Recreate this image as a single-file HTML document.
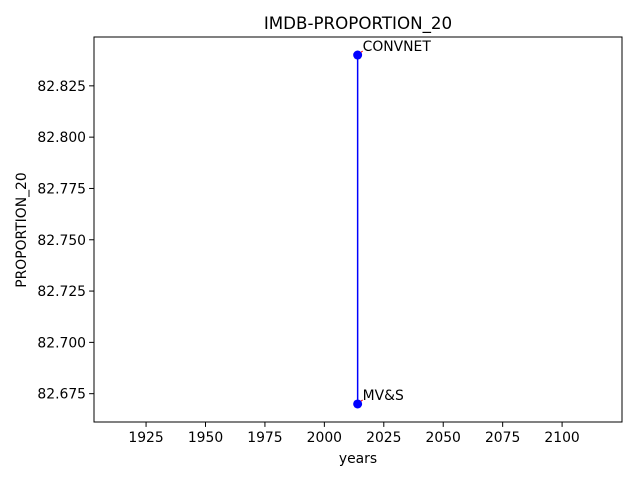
<!DOCTYPE html>
<html><head><meta charset="utf-8"><style>
body{margin:0;background:#fff;}
svg{font-family:"DejaVu Sans","Liberation Sans",sans-serif;}
</style></head><body>
<svg id="c" width="640" height="480">
<rect width="640" height="480" fill="#fff"/>
<text x="358" y="29" font-size="16.7" text-anchor="middle">IMDB-PROPORTION_20</text>
<text x="358" y="463" font-size="13.9" text-anchor="middle">years</text>
<text transform="translate(26,230) rotate(-90)" font-size="13.9" text-anchor="middle">PROPORTION_20</text>
<g id="ax"></g>
<rect x="94" y="37" width="528" height="385" fill="none" stroke="#000" stroke-width="1"/>
</svg>
<script>
const years=[2014,2014];
const values=[82.67,82.84];
const labels=['MV&S','CONVNET'];
const xTicks=[1925,1950,1975,2000,2025,2050,2075,2100];
const yTicks=[82.675,82.7,82.725,82.75,82.775,82.8,82.825];
const X0=94,X1=622,Y0=37,Y1=422;
const xmin=1903.1,xmax=2125.2,ymin=82.6612,ymax=82.8488;
const sx=v=>X0+(v-xmin)/(xmax-xmin)*(X1-X0);
const sy=v=>Y1-(v-ymin)/(ymax-ymin)*(Y1-Y0);
const NS='http://www.w3.org/2000/svg';
const g=document.getElementById('ax');
function mk(t,a){const e=document.createElementNS(NS,t);for(const k in a)e.setAttribute(k,a[k]);g.appendChild(e);return e;}
xTicks.forEach(t=>{const x=sx(t);
const l=mk('line',{x1:x,x2:x,y1:Y1,y2:Y1+4.9,stroke:'#000'});


const s=mk('text',{x:x,y:Y1+20,'font-size':13.9,'text-anchor':'middle'});s.textContent=t;

});
yTicks.forEach(t=>{const y=sy(t);
const l=mk('line',{x1:X0-4.9,x2:X0,y1:y,y2:y,stroke:'#000'});


const s=mk('text',{x:X0-8,y:y+5,'font-size':13.9,'text-anchor':'end'});s.textContent=t.toFixed(3);

});
const pl=mk('polyline',{points:years.map((v,i)=>sx(v)+','+sy(values[i])).join(' '),fill:'none',stroke:'#0000ff','stroke-width':1.5});


years.forEach((v,i)=>{const x=sx(v),y=sy(values[i]);
const a=mk('line',{x1:x+1,y1:y-1,x2:x+5,y2:y-4,stroke:'red','stroke-width':1});


const c=mk('circle',{cx:x,cy:y,r:4.5,fill:'#0000ff'});


const s=mk('text',{x:x+5,y:y-4,'font-size':13.9});s.textContent=labels[i];

});
</script>
</body></html>
